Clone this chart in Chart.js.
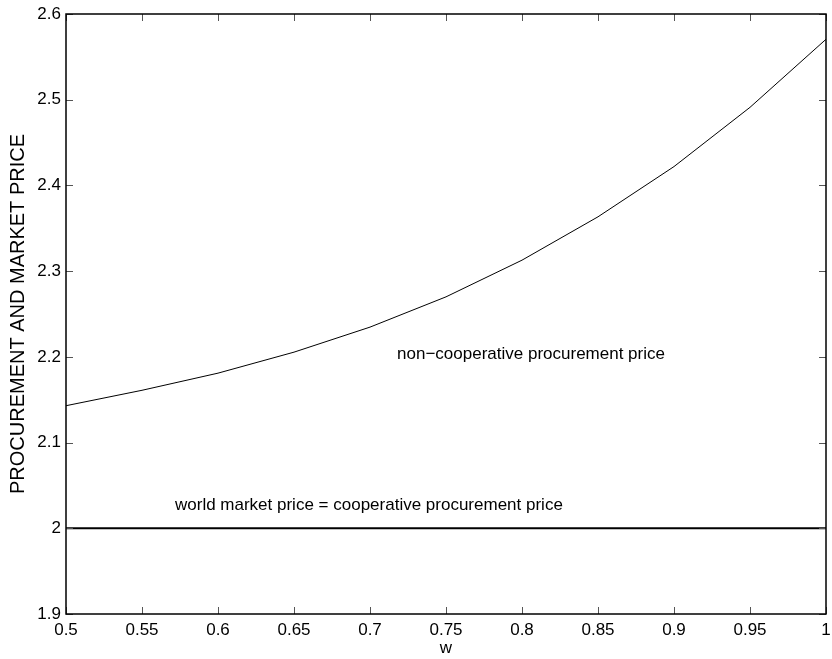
<!DOCTYPE html>
<html>
<head>
<meta charset="utf-8">
<script src="https://cdn.jsdelivr.net/npm/chart.js@4/dist/chart.umd.min.js"></script>
<style>
  body { margin: 0; background: #fff; }
  canvas { display: block; }
</style>
</head>
<body>
<canvas id="priceChart" width="832" height="659"></canvas>
<script>
// data
const wValues = [0.5, 0.55, 0.6, 0.65, 0.7, 0.75, 0.8, 0.85, 0.9, 0.95, 1.0];
const nonCoopPrice = [2.143, 2.161, 2.181, 2.2055, 2.2347, 2.270, 2.3128, 2.3634, 2.422, 2.4911, 2.5705];
const worldPrice = [2, 2, 2, 2, 2, 2, 2, 2, 2, 2, 2];
const xTickValues = [0.5, 0.55, 0.6, 0.65, 0.7, 0.75, 0.8, 0.85, 0.9, 0.95, 1];
const yTickValues = [1.9, 2, 2.1, 2.2, 2.3, 2.4, 2.5, 2.6];
const annotations = [
    { text: 'non\u2212cooperative procurement price', x: 0.7178, y: 2.2033 },
    { text: 'world market price = cooperative procurement price', x: 0.5717, y: 2.027 }
];

const FONT = 'Liberation Sans, Arial, Helvetica, sans-serif';

function toPoints(xs, ys) {
    return xs.map((x, i) => ({ x: x, y: ys[i] }));
}

function fmt(v) {
    return String(Number(v.toFixed(2)));
}

// box, inward ticks, labels and axis titles, in the MATLAB look
const matlabAxes = {
    id: 'matlabAxes',
    afterDatasetsDraw(chart) {
        const { ctx, chartArea: a, scales } = chart;
        const xs = scales.x, ys = scales.y;
        ctx.save();

        // inward tick marks on all four sides
        ctx.strokeStyle = '#555';
        ctx.lineWidth = 1;
        ctx.beginPath();
        xTickValues.forEach(v => {
            const px = Math.round(xs.getPixelForValue(v)) + 0.5;
            ctx.moveTo(px, a.bottom); ctx.lineTo(px, a.bottom - 7);
            ctx.moveTo(px, a.top); ctx.lineTo(px, a.top + 7);
        });
        yTickValues.forEach(v => {
            const py = Math.round(ys.getPixelForValue(v)) + 0.5;
            ctx.moveTo(a.left, py); ctx.lineTo(a.left + 7, py);
            ctx.moveTo(a.right, py); ctx.lineTo(a.right - 7, py);
        });
        ctx.stroke();

        // frame
        ctx.strokeStyle = '#000';
        ctx.lineWidth = 1.5;
        ctx.strokeRect(a.left, a.top, a.right - a.left, a.bottom - a.top);

        // text on the plot
        ctx.fillStyle = '#000';
        ctx.font = '17px ' + FONT;
        ctx.textAlign = 'left';
        ctx.textBaseline = 'middle';
        annotations.forEach(t => {
            ctx.fillText(t.text, xs.getPixelForValue(t.x), ys.getPixelForValue(t.y));
        });

        // axis titles
        ctx.textAlign = 'center';
        ctx.fillText('w', (a.left + a.right) / 2, 648);
        ctx.font = '20px ' + FONT;
        ctx.translate(18, (a.top + a.bottom) / 2);
        ctx.rotate(-Math.PI / 2);
        ctx.fillText('PROCUREMENT AND MARKET PRICE', 0, 0);
        ctx.restore();
    }
};

const ctx = document.getElementById('priceChart').getContext('2d');
new Chart(ctx, {
    type: 'line',
    data: {
        datasets: [{
            label: 'non-cooperative procurement price',
            data: toPoints(wValues, nonCoopPrice),
            borderColor: '#000',
            borderWidth: 1,
            pointRadius: 0,
            tension: 0
        }, {
            label: 'world market price',
            data: toPoints(wValues, worldPrice),
            borderColor: '#000',
            borderWidth: 2,
            pointRadius: 0,
            tension: 0
        }]
    },
    options: {
        responsive: false,
        devicePixelRatio: 1,
        animation: false,
        layout: { padding: { top: 14, right: 6, left: 0, bottom: 0 } },
        plugins: {
            legend: { display: false },
            tooltip: { enabled: false }
        },
        scales: {
            x: {
                type: 'linear',
                min: 0.5,
                max: 1,
                afterBuildTicks(scale) {
                    scale.ticks = xTickValues.map(v => ({ value: v }));
                },
                afterFit(scale) {
                    scale.height = 45;
                    scale.paddingLeft = 0;
                    scale.paddingRight = 0;
                },
                grid: { display: false, drawTicks: false },
                border: { display: false },
                ticks: {
                    color: '#000',
                    font: { family: FONT, size: 17 },
                    padding: 6,
                    maxRotation: 0,
                    autoSkip: false,
                    callback: v => fmt(v)
                }
            },
            y: {
                type: 'linear',
                min: 1.9,
                max: 2.6,
                afterBuildTicks(scale) {
                    scale.ticks = yTickValues.map(v => ({ value: v }));
                },
                afterFit(scale) {
                    scale.width = 66;
                    scale.paddingTop = 0;
                    scale.paddingBottom = 0;
                },
                grid: { display: false, drawTicks: false },
                border: { display: false },
                ticks: {
                    color: '#000',
                    font: { family: FONT, size: 17 },
                    padding: 5,
                    autoSkip: false,
                    callback: v => fmt(v)
                }
            }
        }
    },
    plugins: [matlabAxes]
});
</script>
</body>
</html>
